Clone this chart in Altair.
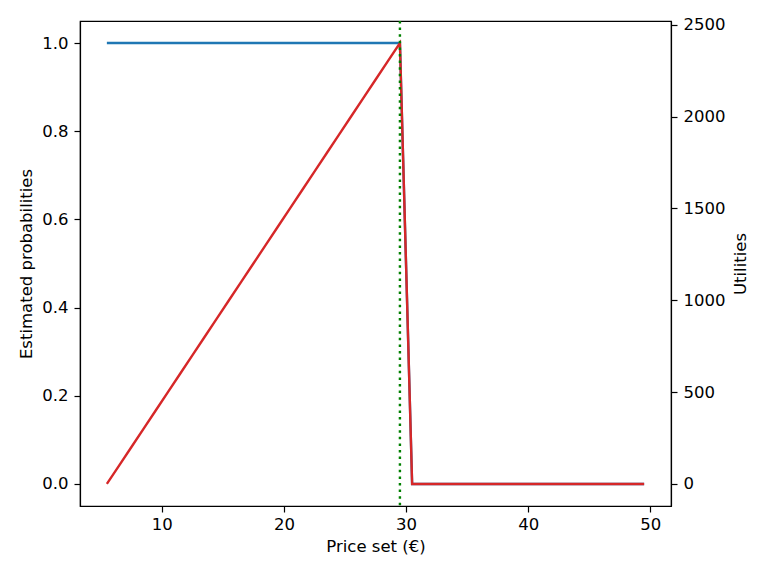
import altair as alt
import pandas as pd

prices = [5.5, 6.5, 7.5, 8.5, 9.5, 10.5, 11.5, 12.5, 13.5, 14.5,
          15.5, 16.5, 17.5, 18.5, 19.5, 20.5, 21.5, 22.5, 23.5, 24.5,
          25.5, 26.5, 27.5, 28.5, 29.5, 30.5, 31.5, 32.5, 33.5, 34.5,
          35.5, 36.5, 37.5, 38.5, 39.5, 40.5, 41.5, 42.5, 43.5, 44.5,
          45.5, 46.5, 47.5, 48.5, 49.5]
probabilities = [1.0, 1.0, 1.0, 1.0, 1.0, 1.0, 1.0, 1.0, 1.0, 1.0,
                 1.0, 1.0, 1.0, 1.0, 1.0, 1.0, 1.0, 1.0, 1.0, 1.0,
                 1.0, 1.0, 1.0, 1.0, 1.0, 0.0, 0.0, 0.0, 0.0, 0.0,
                 0.0, 0.0, 0.0, 0.0, 0.0, 0.0, 0.0, 0.0, 0.0, 0.0,
                 0.0, 0.0, 0.0, 0.0, 0.0]
utilities = [0, 100, 200, 300, 400, 500, 600, 700, 800, 900,
             1000, 1100, 1200, 1300, 1400, 1500, 1600, 1700, 1800, 1900,
             2000, 2100, 2200, 2300, 2400, 0, 0, 0, 0, 0,
             0, 0, 0, 0, 0, 0, 0, 0, 0, 0,
             0, 0, 0, 0, 0]
best_price = [29.5]

x_ticks = [10, 20, 30, 40, 50]
prob_ticks = [0.0, 0.2, 0.4, 0.6, 0.8, 1.0]
util_ticks = [0, 500, 1000, 1500, 2000, 2500]

df = pd.DataFrame({"price": prices, "prob": probabilities, "util": utilities})
df_best = pd.DataFrame({"price": best_price})

FONT = "DejaVu Sans"

x_enc = alt.X(
    "price:Q",
    scale=alt.Scale(domain=[3.3, 51.7], nice=False, zero=False),
    axis=alt.Axis(values=x_ticks, title="Price set (€)", format="d",
                  labelPadding=4, titlePadding=6),
)

blue = alt.Chart(df).mark_line(color="#1f77b4", strokeWidth=2.4).encode(
    x=x_enc,
    y=alt.Y(
        "prob:Q",
        scale=alt.Scale(domain=[-0.05, 1.05], nice=False, zero=False),
        axis=alt.Axis(values=prob_ticks, format=".1f", orient="left",
                      title="Estimated probabilities", titlePadding=7),
    ),
)

red = alt.Chart(df).mark_line(color="#d62728", strokeWidth=2.4).encode(
    x=x_enc,
    y=alt.Y(
        "util:Q",
        scale=alt.Scale(domain=[-120, 2520], nice=False, zero=False),
        axis=alt.Axis(values=util_ticks, format="d", orient="right",
                      title="Utilities", titleAngle=270, titlePadding=24),
    ),
)

rule = alt.Chart(df_best).mark_rule(
    color="#008000", strokeWidth=2.4, strokeDash=[2.5, 4.1]
).encode(x=alt.X("price:Q"))

chart = (
    alt.layer(blue, red, rule)
    .resolve_scale(y="independent")
    .properties(
        width=591,
        height=485,
        autosize=alt.AutoSizeParams(type="none"),
        padding={"left": 72, "top": 13, "right": 89, "bottom": 62},
        background="white",
    )
    .configure_view(stroke="black", strokeWidth=1.2)
    .configure_axis(
        grid=False,
        domainColor="black",
        domainWidth=1.2,
        tickColor="black",
        tickWidth=1.2,
        tickSize=6,
        labelPadding=6,
        labelColor="black",
        titleColor="black",
        labelFont=FONT,
        titleFont=FONT,
        labelFontSize=16.5,
        titleFontSize=16.5,
        titleFontWeight="normal",
    )
)

chart.save("out.html", embed_options={"renderer": "svg", "actions": False})
